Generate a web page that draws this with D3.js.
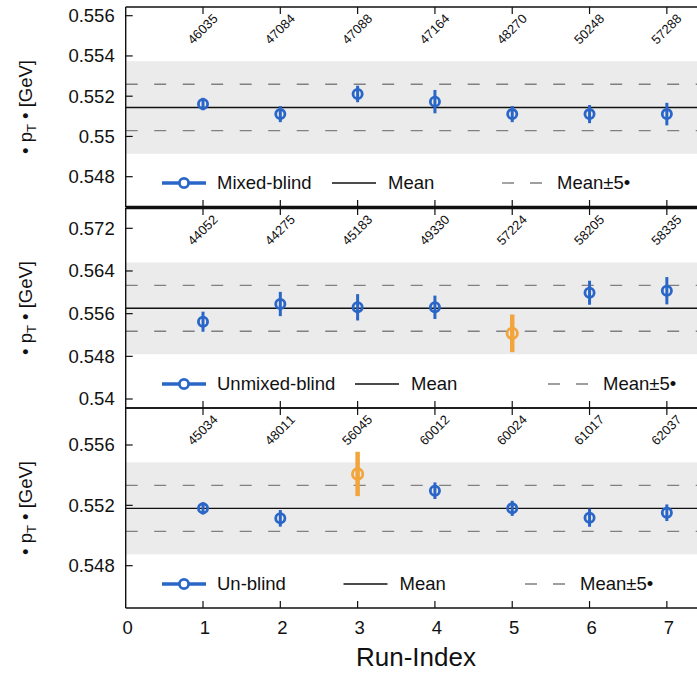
<!DOCTYPE html>
<html lang="en">
<head>
  <meta charset="UTF-8">
  <title>Mean pT per run</title>
  <script src="https://d3js.org/d3.v7.min.js"></script>
  <style>
    body { margin: 0; background: white; overflow: hidden; }
    text { font-family: "Liberation Sans", Arial, sans-serif; fill: #111; }
  </style>
</head>
<body>
  <script>
    // Run index on the x axis
    const runIndex = [1, 2, 3, 4, 5, 6, 7];

    // Mixed-blind
    const mixedRuns = ["46035", "47084", "47088", "47164", "48270", "50248", "57288"];
    const mixedVals = [0.55161, 0.55111, 0.55211, 0.55173, 0.55111, 0.55111, 0.55111];
    const mixedErrs = [0.00031, 0.00040, 0.00041, 0.00058, 0.00040, 0.00045, 0.00056];
    const mixedOut  = [0, 0, 0, 0, 0, 0, 0];
    const mixedMean = 0.55144, mixedSigma = 0.000230;

    // Unmixed-blind
    const unmixedRuns = ["44052", "44275", "45183", "49330", "57224", "58205", "58335"];
    const unmixedVals = [0.55449, 0.55781, 0.55719, 0.55719, 0.55231, 0.55992, 0.56030];
    const unmixedErrs = [0.00188, 0.00228, 0.00247, 0.00219, 0.00353, 0.00225, 0.00256];
    const unmixedOut  = [0, 0, 0, 0, 1, 0, 0];
    const unmixedMean = 0.55700, unmixedSigma = 0.00086;

    // Un-blind
    const unblindRuns = ["45034", "48011", "56045", "60012", "60024", "61017", "62037"];
    const unblindVals = [0.55180, 0.55114, 0.55408, 0.55297, 0.55180, 0.55118, 0.55151];
    const unblindErrs = [0.00041, 0.00055, 0.00147, 0.00055, 0.00050, 0.00060, 0.00055];
    const unblindOut  = [0, 0, 1, 0, 0, 0, 0];
    const unblindMean = 0.55180, unblindSigma = 0.000305;

    const xTicks = [0, 1, 2, 3, 4, 5, 6, 7];

    const width = 697, height = 673;
    const blue = "#2a66c8", orange = "#f2a53c";

    const svg = d3.select("body").append("svg")
      .attr("width", width)
      .attr("height", height);

    const x = d3.scaleLinear().domain([0, 7.5]).range([125.7, 705.5]);

    const panels = [
      { name: "Mixed-blind", runs: mixedRuns, vals: mixedVals, errs: mixedErrs, out: mixedOut,
        mean: mixedMean, sigma: mixedSigma, top: 7, bottom: 207,
        domain: [0.546494, 0.556432], ticks: [0.548, 0.550, 0.552, 0.554, 0.556], legStep: 170 },
      { name: "Unmixed-blind", runs: unmixedRuns, vals: unmixedVals, errs: unmixedErrs, out: unmixedOut,
        mean: unmixedMean, sigma: unmixedSigma, top: 208, bottom: 408,
        domain: [0.538313, 0.575806], ticks: [0.540, 0.548, 0.556, 0.564, 0.572], legStep: 193 },
      { name: "Un-blind", runs: unblindRuns, vals: unblindVals, errs: unblindErrs, out: unblindOut,
        mean: unblindMean, sigma: unblindSigma, top: 408, bottom: 608,
        domain: [0.545196, 0.558452], ticks: [0.548, 0.552, 0.556], legStep: 181.5 }
    ];

    const fmt = d3.format(".3~f");
    // glyph step along a 45 degree diagonal for 13px digits
    const step = 0.556 * 13 * Math.SQRT1_2;

    panels.forEach((p, pi) => {
      const y = d3.scaleLinear().domain(p.domain).range([p.bottom, p.top]);
      const g = svg.append("g");
      const x0 = x.range()[0], x1 = x.range()[1];

      // +-10 sigma band
      g.append("rect")
        .attr("x", x0).attr("width", x1 - x0)
        .attr("y", y(p.mean + 10 * p.sigma))
        .attr("height", y(p.mean - 10 * p.sigma) - y(p.mean + 10 * p.sigma))
        .attr("fill", "#ebebeb");

      // +-5 sigma dashed lines
      [p.mean + 5 * p.sigma, p.mean - 5 * p.sigma].forEach(v => {
        g.append("line")
          .attr("x1", x0).attr("x2", x1)
          .attr("y1", y(v)).attr("y2", y(v))
          .attr("stroke", "#808080").attr("stroke-width", 1.4)
          .attr("stroke-dasharray", "12,16.5");
      });

      // mean
      g.append("line")
        .attr("x1", x0).attr("x2", x1)
        .attr("y1", y(p.mean)).attr("y2", y(p.mean))
        .attr("stroke", "#111").attr("stroke-width", 1.4);

      const pts = runIndex.map((r, i) => ({ r, v: p.vals[i], e: p.errs[i], out: p.out[i], run: p.runs[i] }));

      g.selectAll("line.err").data(pts).enter().append("line")
        .attr("class", "err")
        .attr("x1", d => x(d.r)).attr("x2", d => x(d.r))
        .attr("y1", d => y(d.v - d.e)).attr("y2", d => y(d.v + d.e))
        .attr("stroke", d => d.out ? orange : blue)
        .attr("stroke-width", d => d.out ? 4.5 : 3);

      g.selectAll("circle.pt").data(pts).enter().append("circle")
        .attr("class", "pt")
        .attr("cx", d => x(d.r)).attr("cy", d => y(d.v))
        .attr("r", d => d.out ? 5.2 : 4.6)
        .attr("fill", "none")
        .attr("stroke", d => d.out ? orange : blue)
        .attr("stroke-width", 2.8);

      // run numbers along a 45 degree diagonal, one position per glyph
      g.selectAll("text.run").data(pts).enter().append("text")
        .attr("class", "run")
        .attr("x", d => d.run.split("").map((c, k) => (x(d.r) - 10 + k * step).toFixed(2)).join(" "))
        .attr("y", d => d.run.split("").map((c, k) => (p.top + 38 - k * step).toFixed(2)).join(" "))
        .attr("rotate", d => d.run.split("").map(() => -45).join(" "))
        .style("font-size", "13px")
        .text(d => d.run);

      // legend
      const ly = p.top + 176;
      const lx = 162;
      g.append("line").attr("x1", lx).attr("x2", lx + 44).attr("y1", ly).attr("y2", ly)
        .attr("stroke", blue).attr("stroke-width", 3.5);
      g.append("circle").attr("cx", lx + 22).attr("cy", ly).attr("r", 4.6)
        .attr("fill", "white").attr("stroke", blue).attr("stroke-width", 2.8);
      g.append("text").attr("x", lx + 55).attr("y", ly).attr("dy", "0.35em")
        .style("font-size", "18.5px").text(p.name);

      const mx = lx + p.legStep;
      g.append("line").attr("x1", mx).attr("x2", mx + 44).attr("y1", ly).attr("y2", ly)
        .attr("stroke", "#111").attr("stroke-width", 1.4);
      g.append("text").attr("x", mx + 56).attr("y", ly).attr("dy", "0.35em")
        .style("font-size", "18.5px").text("Mean");

      const sx = lx + 2 * p.legStep;
      g.append("line").attr("x1", sx).attr("x2", sx + 40).attr("y1", ly).attr("y2", ly)
        .attr("stroke", "#808080").attr("stroke-width", 1.4)
        .attr("stroke-dasharray", "12,16");
      g.append("text").attr("x", sx + 55).attr("y", ly).attr("dy", "0.35em")
        .style("font-size", "18.5px").text("Mean\u00b15\u2022");

      // frame and ticks
      g.append("line").attr("x1", x0).attr("x2", x0).attr("y1", p.top).attr("y2", p.bottom)
        .attr("stroke", "#111").attr("stroke-width", 1.4);
      g.append("line").attr("x1", x0).attr("x2", width).attr("y1", p.top).attr("y2", p.top)
        .attr("stroke", "#111").attr("stroke-width", pi === 1 ? 2.5 : 1.4);
      g.append("line").attr("x1", x0).attr("x2", width).attr("y1", p.bottom).attr("y2", p.bottom)
        .attr("stroke", "#111").attr("stroke-width", pi === 0 ? 2.5 : 1.4);

      runIndex.forEach(r => {
        g.append("line").attr("x1", x(r)).attr("x2", x(r)).attr("y1", p.top).attr("y2", p.top + 7)
          .attr("stroke", "#111").attr("stroke-width", 1.2);
        g.append("line").attr("x1", x(r)).attr("x2", x(r)).attr("y1", p.bottom).attr("y2", p.bottom - 7)
          .attr("stroke", "#111").attr("stroke-width", 1.2);
      });

      p.ticks.forEach(t => {
        g.append("line").attr("x1", x0).attr("x2", x0 + 7).attr("y1", y(t)).attr("y2", y(t))
          .attr("stroke", "#111").attr("stroke-width", 1.2);
        g.append("text").attr("x", x0 - 11).attr("y", y(t)).attr("dy", "0.35em")
          .attr("text-anchor", "end")
          .style("font-size", "18.5px")
          .text(fmt(t));
      });

      // y label
      const yl = g.append("text")
        .attr("transform", `translate(32,${(p.top + p.bottom) / 2}) rotate(-90)`)
        .attr("text-anchor", "middle")
        .style("font-size", "18.5px");
      yl.append("tspan").text("\u2022 p");
      yl.append("tspan").attr("dy", 4).style("font-size", "13px").text("T");
      yl.append("tspan").attr("dy", -4).text(" \u2022 [GeV]");
    });

    // x axis labels
    svg.selectAll("text.xt").data(xTicks).enter().append("text")
      .attr("class", "xt")
      .attr("x", d => x(d) + 2).attr("y", 628).attr("dy", "0.35em")
      .attr("text-anchor", "middle")
      .style("font-size", "18.5px")
      .text(d => d);

    svg.append("text")
      .attr("x", 416).attr("y", 657).attr("dy", "0.35em")
      .attr("text-anchor", "middle")
      .style("font-size", "26px")
      .text("Run-Index");
  </script>
</body>
</html>
